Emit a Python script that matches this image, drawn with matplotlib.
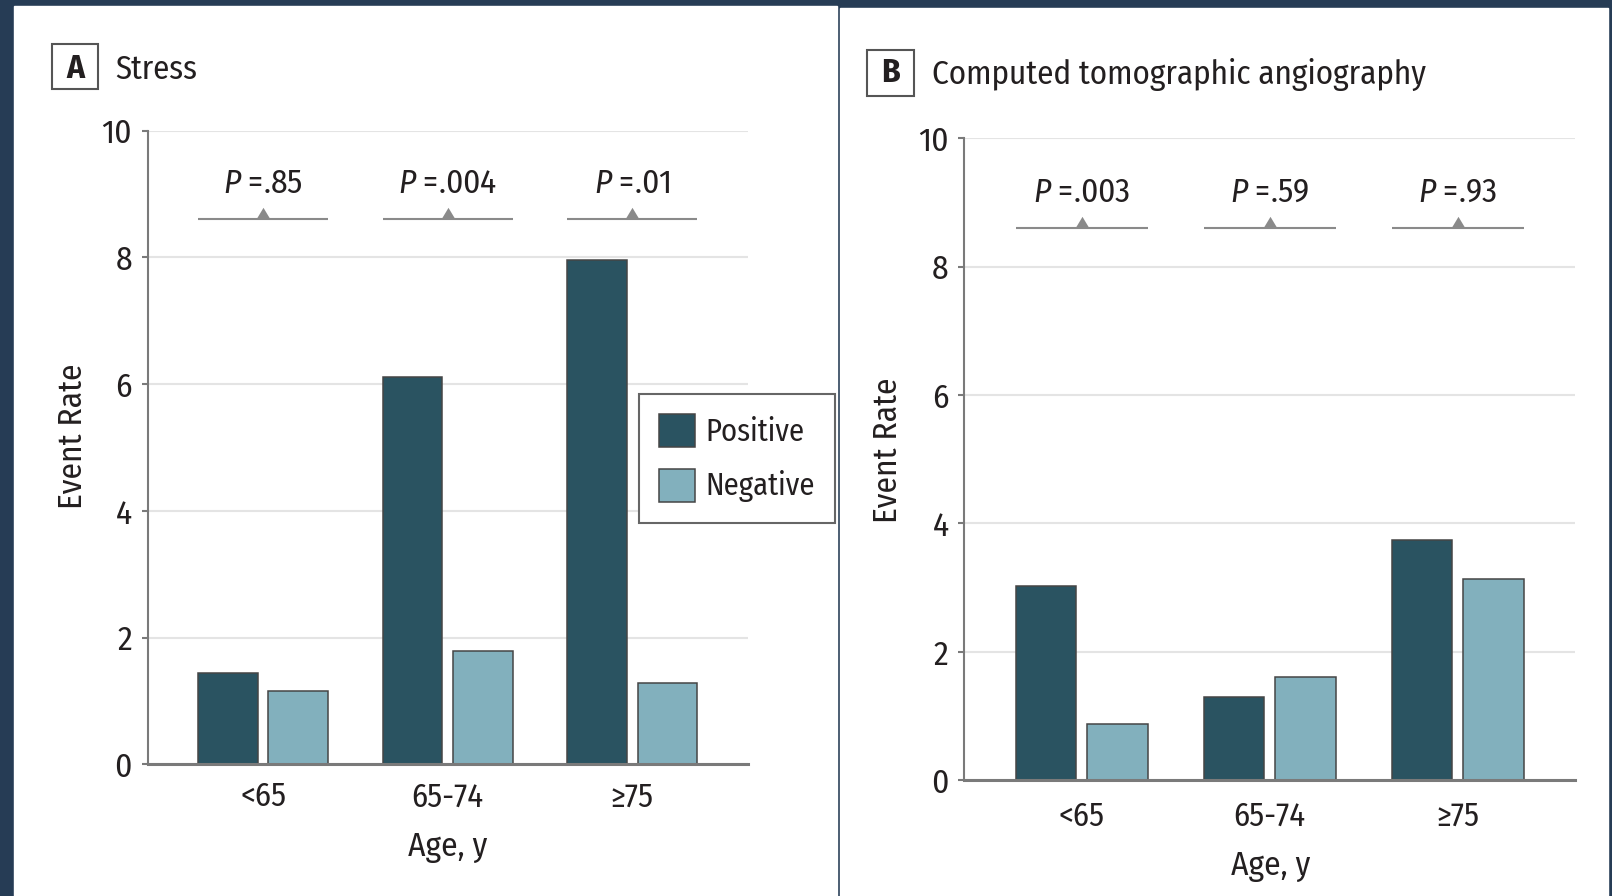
import numpy as np
import matplotlib
matplotlib.use("Agg")
import matplotlib.pyplot as plt
from matplotlib import font_manager
from matplotlib.patches import Rectangle

W, H = 1612, 896

# condensed humanist face, first one that is installed
_have = {f.name for f in font_manager.fontManager.ttflist}
FAMILY = next((n for n in ["Fira Sans Condensed", "PT Sans Narrow", "Asap Condensed",
                           "IBM Plex Sans Condensed"] if n in _have), "DejaVu Sans")
plt.rcParams["font.family"] = [FAMILY, "DejaVu Sans"]
plt.rcParams["mathtext.fontset"] = "custom"
plt.rcParams["mathtext.it"] = f"{FAMILY}:italic"
plt.rcParams["mathtext.rm"] = FAMILY

NAVY = "#263c55"
DARK = "#2a5361"
LIGHT = "#82b0bd"
EDGE = "#454545"
AXIS = "#7a7a7a"
GRID = "#e4e4e4"
BRACKET = "#8a8a8a"
TEXT = "#231f20"

# event rates by age group, positive vs negative test
age_groups = ["<65", "65-74", "\u226575"]
stress_pos = [1.44, 6.11, 7.96]
stress_neg = [1.15, 1.79, 1.28]
stress_p = [".85", ".004", ".01"]
cta_pos = [3.03, 1.29, 3.75]
cta_neg = [0.87, 1.61, 3.14]
cta_p = [".003", ".59", ".93"]

BAR_W = 0.323
OFF = 0.19
BRACKET_Y = 8.61
P_Y = 9.01
FS = 24
# upward triangle with its base at the marker origin
TRI = [(-1, 0), (1, 0), (0, 1.66), (-1, 0)]


def fx(x):
    return x / W


def fy(y):
    return 1 - y / H


def pixel_axes(fig, left, top, right, bottom):
    return fig.add_axes([fx(left), fy(bottom), (right - left) / W, (bottom - top) / H])


def draw_panel(ax, pos, neg, pvals, xpad):
    x = np.arange(len(age_groups))
    bp = ax.bar(x - OFF, pos, BAR_W, color=DARK, edgecolor=EDGE, lw=1.1,
                label="Positive", zorder=3)
    bn = ax.bar(x + OFF, neg, BAR_W, color=LIGHT, edgecolor=EDGE, lw=1.1,
                label="Negative", zorder=3)
    ax.set_xlim(-0.625, 2.625)
    ax.set_ylim(0, 10)
    ax.set_yticks(range(0, 11, 2))
    ax.set_xticks(x, age_groups)
    ax.set_axisbelow(True)
    ax.grid(axis="y", color=GRID, lw=1.5)
    for s in ("top", "right"):
        ax.spines[s].set_visible(False)
    ax.spines["left"].set_color(AXIS)
    ax.spines["left"].set_linewidth(1.5)
    ax.spines["bottom"].set_color(AXIS)
    ax.spines["bottom"].set_linewidth(2.2)
    ax.spines["bottom"].set_zorder(4)
    ax.tick_params(axis="y", length=4.3, width=1.5, color=AXIS, pad=7,
                   labelsize=FS, labelcolor=TEXT)
    ax.tick_params(axis="x", length=0, pad=xpad, labelsize=23.5, labelcolor=TEXT)

    for xi, p in zip(x, pvals):
        lo = xi - OFF - BAR_W / 2
        hi = xi + OFF + BAR_W / 2
        ax.plot([lo, hi], [BRACKET_Y, BRACKET_Y], color=BRACKET, lw=1.5,
                solid_capstyle="butt")
        ax.plot([xi], [BRACKET_Y], marker=TRI, ms=16.8, color=BRACKET, mec="none")
        ax.text(xi, P_Y, f"$P$ ={p}", ha="center", va="baseline",
                fontsize=FS, color=TEXT)

    ax.set_ylabel("Event Rate", fontsize=FS, color=TEXT, va="center")
    ax.set_xlabel("Age, y", fontsize=FS, color=TEXT, va="center")
    return bp, bn


fig = plt.figure(figsize=(W / 100, H / 100), dpi=100, facecolor=NAVY)

# white panels behind the axes
fig.patches.append(Rectangle((fx(14), fy(H)), (837 - 14) / W, (H - 6) / H,
                             transform=fig.transFigure, color="white", zorder=-5))
fig.patches.append(Rectangle((fx(840), fy(H)), (1608 - 840) / W, (H - 8) / H,
                             transform=fig.transFigure, color="white", zorder=-5))

# panel A: stress testing
ax_a = pixel_axes(fig, 147.7, 130.7, 747.7, 764.3)
bp, bn = draw_panel(ax_a, stress_pos, stress_neg, stress_p, xpad=12)
ax_a.yaxis.set_label_coords(-0.125, 0.517)
ax_a.xaxis.set_label_coords(0.5, -0.131)

# panel B: CT angiography
ax_b = pixel_axes(fig, 964.3, 138.3, 1575, 780.3)
draw_panel(ax_b, cta_pos, cta_neg, cta_p, xpad=14.5)
ax_b.yaxis.set_label_coords(-0.126, 0.514)
ax_b.xaxis.set_label_coords(0.5016, -0.133)

leg = ax_a.legend(handles=[bp, bn], loc="upper left",
                  bbox_to_anchor=(fx(639), fy(394)), bbox_transform=fig.transFigure,
                  borderaxespad=0, fontsize=22, fancybox=False, framealpha=1,
                  edgecolor="#666666", handlelength=1.16, handleheight=1.29,
                  handletextpad=0.34, borderpad=0.66, labelspacing=0.7,
                  labelcolor=TEXT)
leg.get_frame().set_linewidth(1.5)
leg.set_zorder(10)


def panel_tag(letter, title, left, top, right, bottom, baseline, title_x, size):
    fig.patches.append(Rectangle((fx(left), fy(bottom)), (right - left) / W,
                                 (bottom - top) / H, transform=fig.transFigure,
                                 fill=False, edgecolor="#555555", lw=1.5))
    fig.text(fx((left + right) / 2), fy(baseline), letter, ha="center",
             va="baseline", fontsize=FS, fontweight="bold", color=TEXT)
    fig.text(fx(title_x), fy(baseline + 1.5), title, ha="left", va="baseline",
             fontsize=size, color=TEXT)


panel_tag("A", "Stress", 51.7, 44.3, 98.3, 89.3, 77.5, 115, 23.5)
panel_tag("B", "Computed tomographic angiography", 867.3, 50, 914.3, 96, 82.5,
          931.7, 23.8)

fig.savefig("out.png", dpi=100, facecolor=NAVY)
